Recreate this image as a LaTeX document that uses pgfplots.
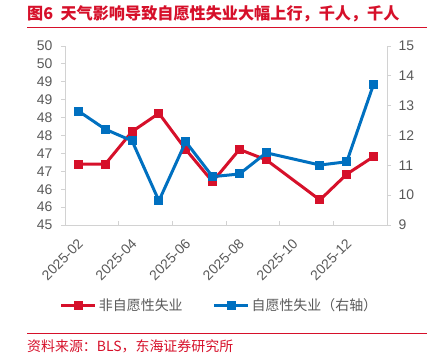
\documentclass[border=0pt]{standalone}
\usepackage{pgfplots}
\pgfplotsset{compat=1.18}
\usepackage{fontspec}
\setmainfont{Liberation Sans}
\newfontfamily\cjk{Noto Sans CJK SC}
\definecolor{myred}{RGB}{214,16,42}
\definecolor{myblue}{RGB}{0,112,192}
\definecolor{txtgray}{RGB}{89,89,89}
\definecolor{axgray}{RGB}{210,210,210}
\pgfplotsset{
  common/.style={
    at={(65bp,131bp)}, anchor=south west, scale only axis,
    width=322bp, height=179bp,
    xmin=-0.5, xmax=11.5,
    tick align=inside, major tick length=4bp,
    tick label style={font=\fontsize{14}{16}\selectfont, text=txtgray},
    axis line style={draw=axgray, line width=1bp},
    every tick/.style={draw=axgray, line width=1bp},
    /pgf/number format/assume math mode=true,
  },
  legend image code/.code={\draw[mark repeat=2,mark phase=2,#1] plot coordinates {(0bp,0bp) (17bp,0bp) (34bp,0bp)};},
}
\begin{document}
\begin{tikzpicture}[x=1bp,y=1bp]
\path[use as bounding box] (0,0) rectangle (443,356);
\begin{axis}[common,
  ymin=45, ymax=50,
  axis y line*=left, axis x line*=bottom,
  ytick={45,45.5,...,50},
  yticklabels={45,46,46,47,47,48,48,49,49,50,50},
  ytick style={xshift=-4bp},
  yticklabel style={xshift=-9bp},
  xtick={-0.5,1.5,3.5,5.5,7.5,9.5,11.5},
  xticklabels={2025-02,2025-04,2025-06,2025-08,2025-10,2025-12,{}},
  xticklabel style={xshift=18bp, yshift=-14bp, rotate=45, anchor=east},
  legend columns=2,
  legend style={draw=none, fill=none, at={(0.48,-0.447)}, anchor=center,
    font=\cjk\fontsize{14}{16}\selectfont, text=txtgray,
    /tikz/every even column/.append style={column sep=28bp}},
]
\addplot[myred, line width=3bp, mark=square*, mark size=4bp, mark options={solid, fill=myred, draw=myred, line width=0pt}]
  coordinates {(0,46.70) (1,46.70) (2,47.61) (3,48.12) (4,47.11) (5,46.21) (6,47.11) (7,46.82) (9,45.70) (10,46.42) (11,46.91)};
\addlegendentry{非自愿性失业}
\addlegendimage{myblue, line width=3bp, mark=square*, mark size=4bp, mark options={solid, fill=myblue, draw=myblue, line width=0pt}}
\addlegendentry{自愿性失业（右轴）}
\end{axis}
\begin{axis}[common,
  ymin=9, ymax=15,
  axis y line*=right, axis x line=none,
  ytick={9,10,...,15},
  ytick style={xshift=4bp},
  yticklabel style={xshift=8bp},
]
\addplot[myblue, line width=3bp, mark=square*, mark size=4bp, mark options={solid, fill=myblue, draw=myblue, line width=0pt}]
  coordinates {(0,12.82) (1,12.21) (2,11.82) (3,9.81) (4,11.79) (5,10.62) (6,10.71) (7,11.42) (9,11.01) (10,11.12) (11,13.72)};
\end{axis}
\node[anchor=west, text=myred, font=\cjk\bfseries\fontsize{16.2}{18}\selectfont, inner sep=0pt] at (27,342) {图6\ \ 天气影响导致自愿性失业大幅上行，千人，千人};
\draw[myred, line width=1.5bp] (27,328.5) -- (427,328.5);
\draw[myred, line width=1bp] (27,23) -- (427,23);
\node[anchor=west, text=myred, font=\cjk\fontsize{14}{16}\selectfont, inner sep=0pt] at (27,10) {资料来源：BLS，东海证券研究所};
\end{tikzpicture}
\end{document}
